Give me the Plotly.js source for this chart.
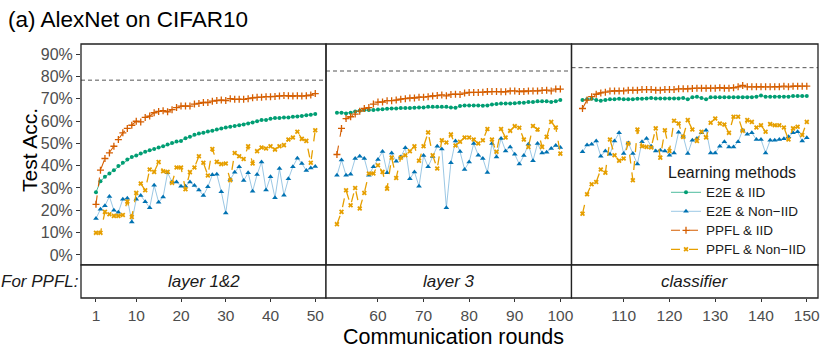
<!DOCTYPE html>
<html>
<head>
<meta charset="utf-8">
<script src="https://cdn.plot.ly/plotly-3.0.1.min.js"></script>
<style>html,body{margin:0;padding:0;background:#fff;}#chart{width:830px;height:360px;}</style>
</head>
<body>
<div id="chart"></div>
<script>
// ---- data (Test accuracy, %) ----
const panelLabels = ["layer 1&2", "layer 3", "classifier"];
const seriesNames = ["E2E & IID", "E2E & Non\u2212IID", "PPFL & IID", "PPFL & Non\u2212IID"];
const centralAcc = [78.3, 82.4, 83.9];
const tickVals1 = [1, 10, 20, 30, 40, 50];
const tickVals2 = [60, 70, 80, 90, 100];
const tickVals3 = [110, 120, 130, 140, 150];
const yTicks = [0, 10, 20, 30, 40, 50, 60, 70, 80, 90];
const yTickText = ["0%", "10%", "20%", "30%", "40%", "50%", "60%", "70%", "80%", "90%"];

const e2eIID_p1 = [28.1,33.0,35.0,36.5,38.0,39.8,41.3,42.8,43.9,44.5,45.4,46.2,46.9,47.5,48.1,48.7,49.5,50.2,50.8,51.1,52.3,52.9,53.8,54.4,54.7,55.3,55.6,56.2,56.7,57.1,57.4,57.8,58.1,58.4,58.9,59.3,59.9,60.4,60.5,61.0,61.3,61.3,61.6,61.6,61.9,62.0,62.3,62.6,62.8,63.1];
const e2eNon_p1 = [16.3,20.5,22.0,26.2,20.0,19.1,25.0,25.4,14.8,25.0,26.6,23.8,21.2,31.2,23.6,26.0,36.8,32.7,32.7,30.8,30.8,32.7,31.1,29.1,26.6,30.5,35.9,36.2,28.3,18.8,33.8,37.1,39.5,33.3,36.8,28.5,36.0,41.6,29.1,35.0,25.6,38.7,26.8,34.1,39.5,43.3,41.0,37.8,38.9,39.6];
const ppflIID_p1 = [22.7,38.0,43.2,45.7,48.7,51.7,54.7,56.7,58.1,59.9,59.6,61.6,62.2,63.7,64.3,64.6,64.1,65.1,66.0,66.7,66.7,66.7,67.6,67.9,68.3,68.3,68.9,69.2,69.4,69.2,70.0,69.7,69.7,69.7,70.0,70.4,70.6,70.7,70.9,70.9,71.0,71.2,71.4,71.3,71.2,71.3,71.2,71.3,71.6,72.3];
const ppflNon_p1 = [9.9,9.9,19.3,18.2,17.5,17.5,17.9,23.9,17.0,27.8,32.0,29.0,38.3,37.2,41.6,37.5,37.2,32.3,39.2,39.2,29.4,37.1,39.2,44.2,41.3,35.6,47.5,41.7,40.7,41.0,33.5,45.7,44.2,43.0,48.7,41.0,46.5,48.1,47.7,48.7,47.2,48.7,49.2,51.7,52.6,55.2,52.0,51.1,41.3,55.9];

const e2eIID_p2 = [63.7,63.7,63.4,63.7,64.3,64.6,64.9,64.9,64.9,65.2,65.3,65.5,65.6,65.6,65.8,65.8,65.8,65.9,66.1,66.1,66.4,66.4,66.4,66.4,66.4,66.1,65.9,66.7,67.0,67.0,67.0,67.0,66.8,67.0,67.4,67.6,67.9,67.9,67.9,68.0,68.2,68.2,68.5,68.5,68.8,68.8,68.8,68.5,68.8,69.4];
const e2eNon_p2 = [35.7,42.5,35.7,36.2,43.2,44.2,43.2,35.7,39.5,42.8,46.3,36.8,45.7,42.0,43.9,48.0,34.1,37.2,30.8,44.5,39.5,44.1,48.7,47.5,21.1,41.3,51.1,46.3,38.3,41.6,49.9,44.7,43.2,36.9,49.9,43.9,52.2,46.6,48.4,45.1,40.7,44.5,49.6,42.2,49.9,45.7,46.0,47.7,49.0,48.1];
const ppflIID_p2 = [45.0,56.7,61.1,61.9,63.1,64.4,65.6,66.0,67.6,68.5,68.5,69.1,69.1,69.4,69.8,70.0,70.3,70.3,70.7,70.7,70.9,71.2,71.4,71.7,71.3,71.9,72.0,71.9,72.5,72.8,72.8,72.8,72.9,73.2,73.2,73.2,73.1,73.1,73.5,73.5,73.2,73.2,73.4,73.5,73.5,73.7,73.8,73.5,74.3,74.3];
const ppflNon_p2 = [13.8,19.3,29.0,22.3,30.0,20.8,27.8,36.5,36.5,40.2,37.2,29.7,43.6,34.5,43.6,44.7,46.5,48.7,42.2,48.7,54.9,44.7,38.7,51.4,50.4,54.0,49.0,50.7,52.6,52.6,51.7,49.9,51.4,56.4,51.7,46.2,56.4,52.6,55.6,57.7,57.0,51.7,48.4,57.8,56.2,48.4,52.9,59.6,57.1,45.4];

const e2eIID_p3 = [69.4,69.7,70.0,69.4,69.1,69.4,69.7,69.7,70.0,69.7,69.7,69.7,70.0,70.0,70.1,70.3,70.1,70.1,70.1,70.1,70.1,70.1,70.3,69.7,70.6,70.9,70.3,69.7,70.6,70.6,70.6,70.6,70.6,70.6,70.6,70.6,70.6,70.6,70.9,71.4,70.9,70.9,70.9,70.9,70.9,70.9,71.2,71.2,71.2,71.2];
const e2eNon_p3 = [46.2,49.2,49.6,51.0,44.2,46.6,45.1,51.1,54.7,45.4,50.2,45.4,40.7,50.7,52.2,48.7,46.6,46.9,46.6,44.7,45.7,55.0,53.2,45.4,51.4,52.2,54.7,55.9,45.7,45.7,48.7,50.7,48.4,48.4,50.7,55.9,54.1,54.7,51.7,51.7,45.7,51.4,51.4,51.7,52.0,52.9,54.7,55.2,51.0,52.5];
const ppflIID_p3 = [65.6,69.4,70.9,72.0,72.6,72.9,73.4,73.5,73.5,73.5,73.8,73.8,73.8,74.1,74.1,74.1,73.8,73.8,74.1,74.1,74.1,74.4,74.4,74.4,74.6,74.7,74.7,74.7,74.7,74.7,74.9,74.7,74.7,74.9,75.3,75.9,75.3,75.3,75.3,75.3,75.3,75.3,75.3,75.3,75.6,75.3,75.6,75.6,75.6,75.6];
const ppflNon_p3 = [18.5,27.2,31.7,32.7,38.3,36.8,51.7,44.7,42.2,43.2,49.9,33.5,56.2,48.7,48.4,48.1,56.7,43.6,55.9,46.6,60.1,58.9,52.9,60.4,56.2,51.1,55.2,52.6,59.2,61.1,58.9,58.4,54.7,61.9,61.9,55.6,60.4,59.6,57.1,58.1,55.2,58.6,58.1,58.1,57.1,51.7,56.7,57.4,53.7,59.6];

// ---- build ----
const panelStart = [1, 51, 101];
const seriesData = [
  [e2eIID_p1, e2eIID_p2, e2eIID_p3],
  [e2eNon_p1, e2eNon_p2, e2eNon_p3],
  [ppflIID_p1, ppflIID_p2, ppflIID_p3],
  [ppflNon_p1, ppflNon_p2, ppflNon_p3]
];
const styles = [
  {line: {color: '#009E73', width: 0.7, dash: 'solid'}, marker: {symbol: 'circle', size: 4, color: '#009E73'}},
  {line: {color: 'rgba(86,160,210,0.85)', width: 0.7, dash: 'solid'}, marker: {symbol: 'triangle-up', size: 5, color: '#0072B2'}},
  {line: {color: '#D55E00', width: 1.1, dash: 'dash'}, marker: {symbol: 'cross-thin', size: 5, color: '#D55E00', line: {color: '#D55E00', width: 1.3}}},
  {line: {color: '#E69F00', width: 1.3, dash: 'dash'}, marker: {symbol: 'x', size: 4.5, color: '#E69F00'}}
];
const axisIds = ['x', 'x2', 'x3'];
const traces = [];
seriesData.forEach((panels, s) => {
  panels.forEach((vals, p) => {
    traces.push({
      type: 'scatter', mode: 'lines+markers',
      x: vals.map((v, i) => panelStart[p] + i), y: vals,
      xaxis: axisIds[p], yaxis: 'y',
      name: '<span style="font-size:13.5px">' + seriesNames[s] + '</span>',
      legendgroup: 'g' + s, showlegend: p === 0,
      line: styles[s].line, marker: styles[s].marker, cliponaxis: true
    });
  });
});

const W = 830, H = 360;
const px = v => v / W, py = v => 1 - v / H;
const panelX = [[81, 326], [326, 571.5], [571.5, 818]];
const panelTop = 44, panelBot = 265, stripBot = 298;
const xRanges = [[-2.35, 52.4], [48.6, 102.45], [98.6, 152.45]];
const tickSets = [tickVals1, tickVals2, tickVals3];
const fontFam = 'Liberation Sans, Arial, Helvetica, sans-serif';

const layout = {
  width: W, height: H,
  margin: {l: 0, r: 0, t: 0, b: 0},
  paper_bgcolor: '#fff', plot_bgcolor: '#fff',
  font: {family: fontFam, color: '#000'},
  title: {text: '(a) AlexNet on CIFAR10', x: px(8), xanchor: 'left', xref: 'paper', y: py(19), yanchor: 'middle', yref: 'container', font: {size: 22.5, color: '#000', family: fontFam}},
  yaxis: {
    domain: [py(panelBot), py(panelTop)], range: [-4.5, 94.5], anchor: 'x',
    tickvals: yTicks, ticktext: yTickText, ticks: 'outside', ticklen: 4, tickwidth: 1, tickcolor: '#333',
    tickfont: {size: 16, color: '#4D4D4D'}, showgrid: false, zeroline: false, showline: false
  },
  showlegend: true,
  legend: {
    x: px(666), y: py(157), xanchor: 'left', yanchor: 'top', bgcolor: 'rgba(255,255,255,0)',
    title: {text: 'Learning methods', font: {size: 16, color: '#1A1A1A'}},
    font: {size: 12, color: '#1A1A1A'}, tracegroupgap: 0, itemwidth: 30
  },
  shapes: [], annotations: []
};
axisIds.forEach((id, p) => {
  const key = p === 0 ? 'xaxis' : 'xaxis' + (p + 1);
  layout[key] = {
    domain: [px(panelX[p][0]), px(panelX[p][1])], range: xRanges[p],
    anchor: 'free', position: py(stripBot),
    tickvals: tickSets[p], ticks: 'outside', ticklen: 3, tickwidth: 1, tickcolor: '#333',
    tickfont: {size: 15.5, color: '#4D4D4D'}, showgrid: false, zeroline: false, showline: false
  };
  // reference dashed line
  layout.shapes.push({type: 'line', xref: (p === 0 ? 'x' : 'x' + (p + 1)) + ' domain', x0: 0, x1: 1, yref: 'y', y0: centralAcc[p], y1: centralAcc[p], line: {color: '#555', width: 1, dash: '4px,3px'}, layer: 'below'});
  // panel border
  layout.shapes.push({type: 'rect', xref: 'paper', yref: 'paper', x0: px(panelX[p][0]), x1: px(panelX[p][1]), y0: py(panelBot), y1: py(panelTop), line: {color: '#222', width: 1.3}, fillcolor: 'rgba(0,0,0,0)', layer: 'above'});
  // strip
  layout.shapes.push({type: 'rect', xref: 'paper', yref: 'paper', x0: px(panelX[p][0]), x1: px(panelX[p][1]), y0: py(stripBot), y1: py(panelBot), line: {color: '#222', width: 1.3}, fillcolor: '#fff', layer: 'above'});
  layout.annotations.push({xref: 'paper', yref: 'paper', x: px((panelX[p][0] + panelX[p][1]) / 2), y: py((panelBot + stripBot) / 2), text: '<i>' + panelLabels[p] + '</i>', showarrow: false, font: {size: 17, color: '#1A1A1A'}, xanchor: 'center', yanchor: 'middle'});
});
layout.annotations.push({xref: 'paper', yref: 'paper', x: px(81), y: py((panelBot + stripBot) / 2), text: '<i>For PPFL:</i>', showarrow: false, font: {size: 17, color: '#1A1A1A'}, xanchor: 'right', yanchor: 'middle'});
layout.annotations.push({xref: 'paper', yref: 'paper', x: px(453), y: py(337), text: 'Communication rounds', showarrow: false, font: {size: 21.5, color: '#000'}, xanchor: 'center', yanchor: 'middle'});
layout.annotations.push({xref: 'paper', yref: 'paper', x: px(29), y: py(150), text: 'Test Acc.', textangle: -90, showarrow: false, font: {size: 21, color: '#000'}, xanchor: 'center', yanchor: 'middle'});

Plotly.newPlot('chart', traces, layout, {staticPlot: true, displayModeBar: false});
</script>
</body>
</html>
